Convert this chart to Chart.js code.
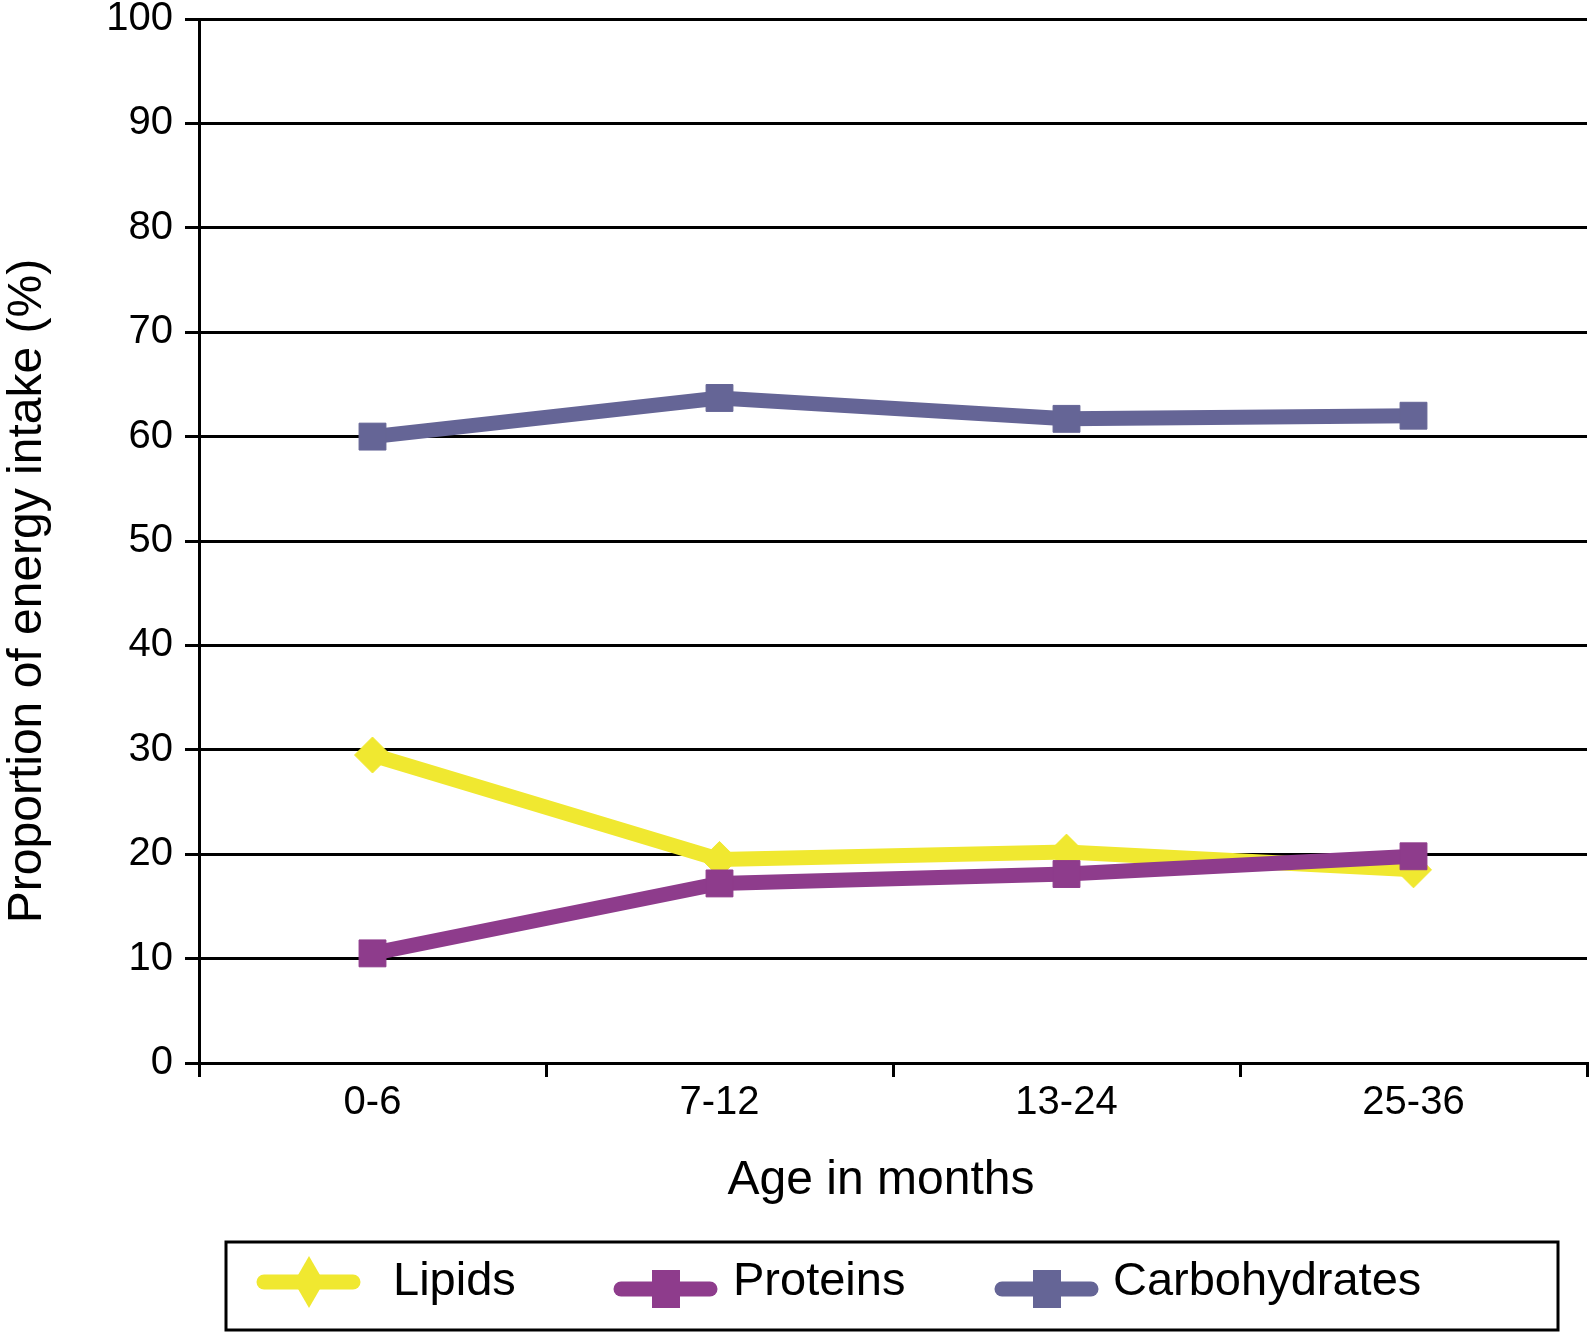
<!DOCTYPE html>
<html>
<head>
<meta charset="utf-8">
<script src="https://cdn.jsdelivr.net/npm/chart.js@4"></script>
<style>
  body { margin: 0; background: #fff; }
  canvas { display: block; }
</style>
</head>
<body>
<canvas id="grafico" width="1592" height="1332"></canvas>
<script>
// datos
const edades = ["0-6", "7-12", "13-24", "25-36"];
const lipidos = [29.5, 19.5, 20.2, 18.5];
const proteinas = [10.5, 17.2, 18.1, 19.8];
const carbohidratos = [60.0, 63.7, 61.7, 62.0];
const nombres = ["Lipids", "Proteins", "Carbohydrates"];

const amarillo = "#f0e830";
const morado = "#8e3c8c";
const azul = "#656596";

Chart.defaults.font.family = "'Liberation Sans', Arial, sans-serif";
Chart.defaults.color = "#000";

// titulos de ejes y leyenda con caja
const extras = {
  id: "extras",
  afterDraw(chart) {
    const ctx = chart.ctx;
    ctx.save();
    ctx.fillStyle = "#000";
    ctx.font = "48px 'Liberation Sans', Arial, sans-serif";
    ctx.textAlign = "center";
    ctx.textBaseline = "middle";
    ctx.fillText("Age in months", 881, 1181);
    ctx.translate(28, 591);
    ctx.rotate(-Math.PI / 2);
    ctx.fillText("Proportion of energy intake (%)", 0, 0);
    ctx.restore();

    // caja
    ctx.save();
    ctx.strokeStyle = "#000";
    ctx.lineWidth = 3;
    ctx.strokeRect(226, 1242, 1332, 88);

    const items = [
      { x: 257, y: 1282, color: amarillo, tipo: "diamante", tx: 393 },
      { x: 614, y: 1289, color: morado, tipo: "cuadro", tx: 733 },
      { x: 995, y: 1289, color: azul, tipo: "cuadro", tx: 1113 }
    ];
    items.forEach((it, i) => {
      ctx.strokeStyle = it.color;
      ctx.fillStyle = it.color;
      ctx.lineWidth = 15;
      ctx.lineCap = "round";
      ctx.beginPath();
      ctx.moveTo(it.x + 7, it.y);
      ctx.lineTo(it.x + 96, it.y);
      ctx.stroke();
      const cx = it.x + 52;
      ctx.beginPath();
      if (it.tipo === "diamante") {
        ctx.moveTo(cx, it.y - 26);
        ctx.lineTo(cx + 15, it.y);
        ctx.lineTo(cx, it.y + 26);
        ctx.lineTo(cx - 15, it.y);
        ctx.closePath();
      } else {
        ctx.rect(cx - 14, it.y - 19, 28, 38);
      }
      ctx.fill();
      ctx.fillStyle = "#000";
      ctx.font = "47px 'Liberation Sans', Arial, sans-serif";
      ctx.textAlign = "left";
      ctx.textBaseline = "middle";
      ctx.fillText(nombres[i], it.tx, 1282);
    });
    ctx.restore();
  }
};

const ctx = document.getElementById("grafico").getContext("2d");
const chart = new Chart(ctx, {
  type: "line",
  data: {
    labels: edades,
    datasets: [
      {
        label: nombres[0],
        data: lipidos,
        borderColor: amarillo,
        backgroundColor: amarillo,
        borderWidth: 15,
        pointStyle: "rectRot",
        pointRadius: 18,
        pointBorderWidth: 1,
        tension: 0,
        order: 1
      },
      {
        label: nombres[1],
        data: proteinas,
        borderColor: morado,
        backgroundColor: morado,
        borderWidth: 15,
        pointStyle: "rect",
        pointRadius: 19,
        pointBorderWidth: 1,
        tension: 0,
        order: 0
      },
      {
        label: nombres[2],
        data: carbohidratos,
        borderColor: azul,
        backgroundColor: azul,
        borderWidth: 15,
        pointStyle: "rect",
        pointRadius: 19,
        pointBorderWidth: 1,
        tension: 0,
        order: 2
      }
    ]
  },
  options: {
    responsive: false,
    devicePixelRatio: 1,
    animation: false,
    clip: false,
    layout: { autoPadding: false, padding: { top: 0, right: 5, left: 0, bottom: 0 } },
    plugins: {
      legend: { display: false },
      tooltip: { enabled: false }
    },
    scales: {
      x: {
        offset: true,
        afterFit: (s) => { s.height = 269; },
        grid: {
          offset: true,
          drawOnChartArea: false,
          color: "#000",
          lineWidth: 3,
          tickLength: 14
        },
        border: { color: "#000", width: 3 },
        ticks: { font: { size: 40 }, padding: 2, maxRotation: 0 }
      },
      y: {
        min: 0,
        max: 100,
        afterFit: (s) => {
          s.width = 199;
          s.paddingTop = 19;
          s.paddingBottom = 0;
        },
        grid: { color: "#000", lineWidth: 3, tickLength: 14 },
        border: { color: "#000", width: 3 },
        ticks: { stepSize: 10, font: { size: 40 }, padding: 12 }
      }
    }
  },
  plugins: [extras]
});
</script>
</body>
</html>
